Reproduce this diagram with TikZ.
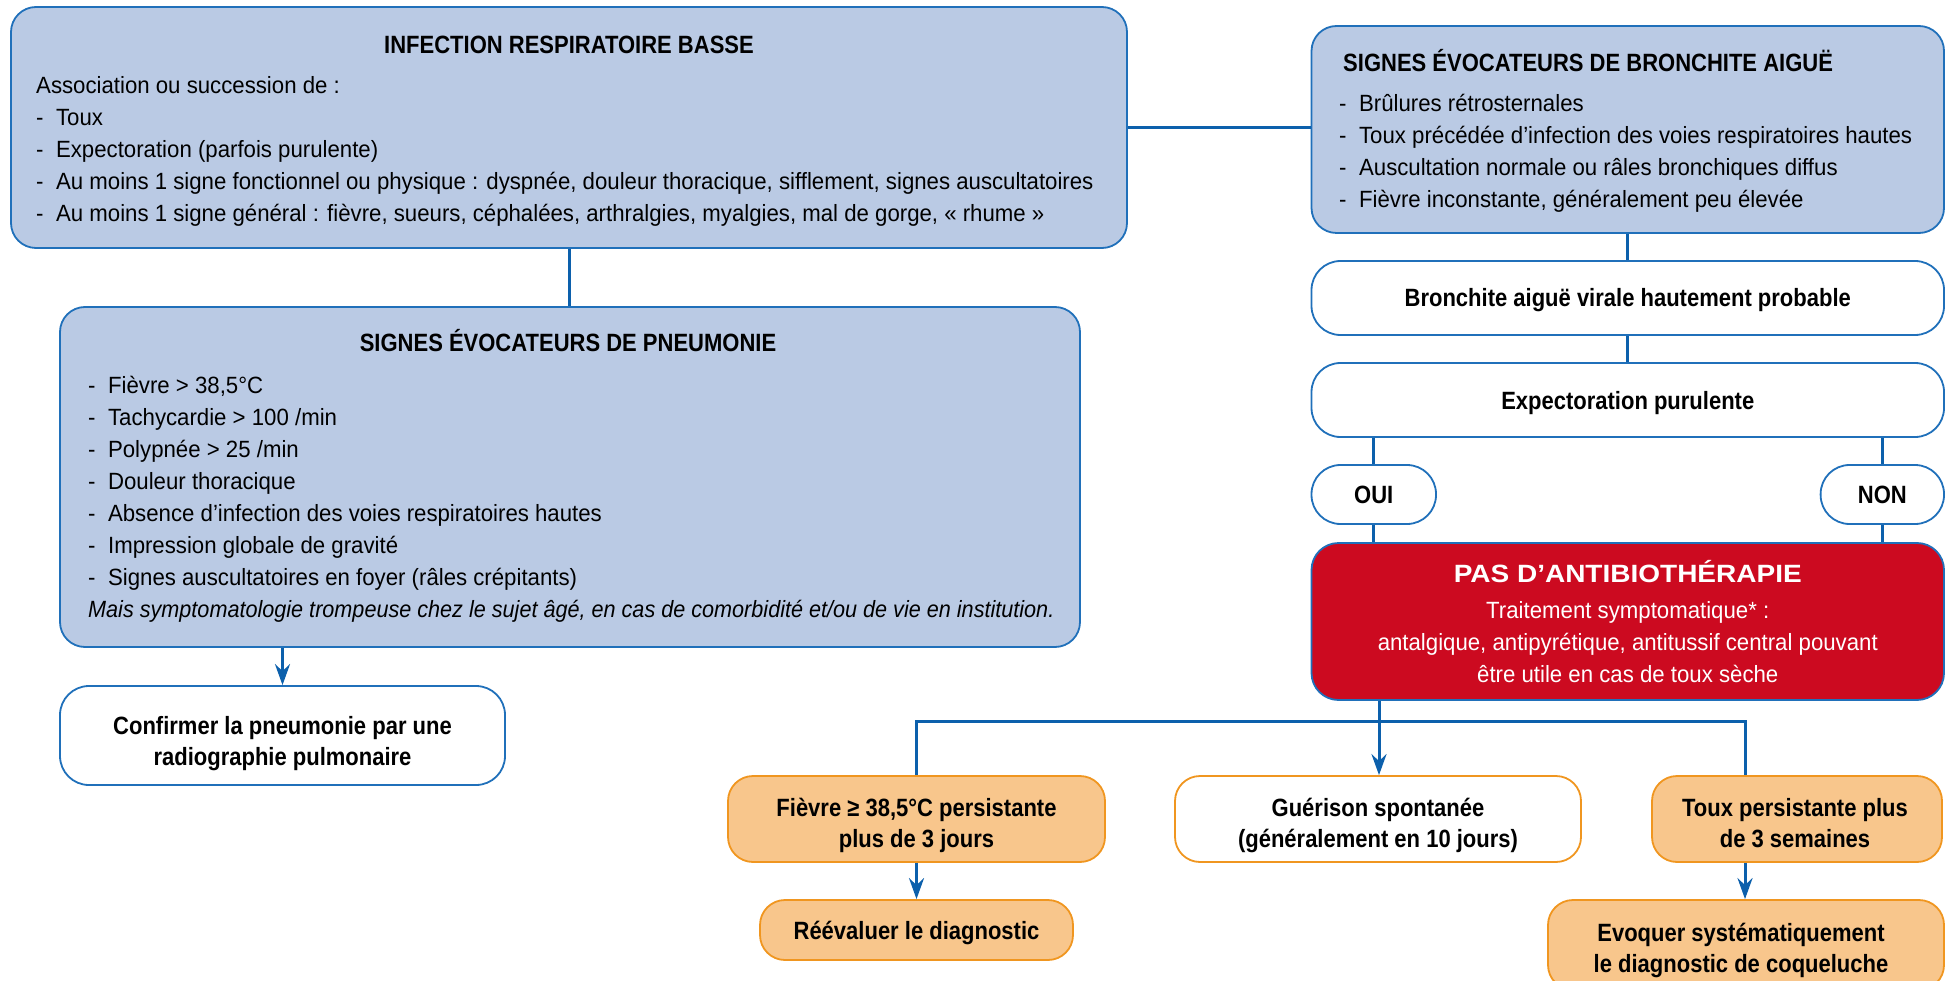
\documentclass[tikz,border=0pt]{standalone}
\usepackage{fontspec}
\setmainfont{Liberation Sans}[FakeStretch=0.945]
\newfontfamily\condbold{Liberation Sans}[FakeStretch=0.88]
\newfontfamily\condital{Liberation Sans}[FakeStretch=0.92]
\newfontfamily\widebold{Liberation Sans}[FakeStretch=1.12]
\usetikzlibrary{arrows.meta}

\definecolor{fillblue}{RGB}{186,202,228}
\definecolor{lineblue}{RGB}{32,112,186}
\definecolor{linkblue}{RGB}{12,96,172}
\definecolor{fillred}{RGB}{204,10,32}
\definecolor{fillorange}{RGB}{248,198,140}
\definecolor{lineorange}{RGB}{240,150,32}

\newcommand{\lead}{\rule{0pt}{22pt}}
\newcommand{\puce}{-\hspace{12.5pt}}

\tikzset{
  bluebox/.style={draw=lineblue, line width=1.8pt, fill=fillblue, rounded corners=25pt, inner sep=0pt},
  whitebox/.style={draw=lineblue, line width=1.8pt, fill=white, rounded corners=29pt, inner sep=0pt},
  redbox/.style={draw=lineblue, line width=1.8pt, fill=fillred, rounded corners=27pt, inner sep=0pt},
  orangebox/.style={draw=lineorange, line width=1.8pt, fill=fillorange, rounded corners=25pt, inner sep=0pt},
  guerbox/.style={orangebox, fill=white},
  plaintext/.style={font=\fontsize{23.5}{32}\selectfont, align=left, inner sep=0pt, anchor=north west},
  boldtext/.style={font=\condbold\bfseries\fontsize{25}{31.5}\selectfont, align=center, inner sep=0pt},
  onerow/.style={boldtext, text height=18pt, text depth=0pt},
  link/.style={draw=linkblue, line width=3pt},
  arrowlink/.style={link, -{Stealth[length=21pt, width=15pt, inset=7pt]}}
}

\begin{document}
\begin{tikzpicture}[x=1pt, y=-1pt]
\useasboundingbox (0,0) rectangle (1945,981);

% left column
\node[bluebox, minimum width=1116pt, minimum height=241pt] (inf) at (569,127.5) {};
\node[boldtext, anchor=base] (inftitle) at (569,54) {INFECTION RESPIRATOIRE BASSE};
\node[plaintext] (inflist) at (36,71.4) {\lead Association ou succession de :\\
\puce Toux\\
\puce Expectoration (parfois purulente)\\
\puce Au moins 1 signe fonctionnel ou physique : dyspnée, douleur thoracique, sifflement, signes auscultatoires\\
\puce Au moins 1 signe général : fièvre, sueurs, céphalées, arthralgies, myalgies, mal de gorge, « rhume »};

\node[bluebox, minimum width=1020pt, minimum height=340pt] (pneu) at (570,477) {};
\node[boldtext, anchor=base] (pneutitle) at (568,352) {SIGNES ÉVOCATEURS DE PNEUMONIE};
\node[plaintext] (pneulist) at (88,371.4) {\lead\puce Fièvre > 38,5°C\\
\puce Tachycardie > 100 /min\\
\puce Polypnée > 25 /min\\
\puce Douleur thoracique\\
\puce Absence d’infection des voies respiratoires hautes\\
\puce Impression globale de gravité\\
\puce Signes auscultatoires en foyer (râles crépitants)\\
\condital\itshape Mais symptomatologie trompeuse chez le sujet âgé, en cas de comorbidité et/ou de vie en institution.};

\node[whitebox, minimum width=445pt, minimum height=99pt] (confirm) at (282.5,735.5) {};
\node[boldtext, anchor=north] (confirmtext) at (282.5,712) {\lead Confirmer la pneumonie par une\\radiographie pulmonaire};

% right column
\node[bluebox, minimum width=632.5pt, minimum height=207pt] (bron) at (1627.75,129.5) {};
\node[boldtext, anchor=base west] (brontitle) at (1343,72) {SIGNES ÉVOCATEURS DE BRONCHITE AIGUË};
\node[plaintext] (bronlist) at (1339,89.4) {\lead\puce Brûlures rétrosternales\\
\puce Toux précédée d’infection des voies respiratoires hautes\\
\puce Auscultation normale ou râles bronchiques diffus\\
\puce Fièvre inconstante, généralement peu élevée};

\node[whitebox, onerow, minimum width=632.5pt, minimum height=74pt] (virale) at (1627.75,298) {Bronchite aiguë virale hautement probable};
\node[whitebox, onerow, minimum width=632.5pt, minimum height=74pt] (expect) at (1627.75,400) {Expectoration purulente};
\node[whitebox, onerow, minimum width=124.5pt, minimum height=59pt] (oui) at (1373.75,494.5) {OUI};
\node[whitebox, onerow, minimum width=123.4pt, minimum height=59pt] (non) at (1882.3,494.5) {NON};

\node[redbox, minimum width=632.5pt, minimum height=157pt] (red) at (1627.75,621.5) {};
\node[font=\widebold\bfseries\fontsize{25}{30}\selectfont, text=white, inner sep=0pt, anchor=base] (redtitle) at (1627.75,582) {PAS D’ANTIBIOTHÉRAPIE};
\node[plaintext, text=white, align=center, anchor=north] (redtext) at (1627.75,596.4) {\lead Traitement symptomatique* :\\
antalgique, antipyrétique, antitussif central pouvant\\
être utile en cas de toux sèche};

% bottom row
\node[orangebox, minimum width=377pt, minimum height=86pt] (fievre) at (916.5,819) {};
\node[boldtext, anchor=north] (fievretext) at (916.5,794) {\lead Fièvre ≥ 38,5°C persistante\\plus de 3 jours};
\node[guerbox, minimum width=406pt, minimum height=86pt] (guer) at (1378,819) {};
\node[boldtext, anchor=north] (guertext) at (1378,794) {\lead Guérison spontanée\\(généralement en 10 jours)};
\node[orangebox, minimum width=290pt, minimum height=86pt] (toux) at (1797,819) {};
\node[boldtext, anchor=north] (touxtext) at (1795,794) {\lead Toux persistante plus\\de 3 semaines};

\node[orangebox, onerow, minimum width=313pt, minimum height=60pt] (reeval) at (916.5,930) {Réévaluer le diagnostic};
\node[orangebox, minimum width=396pt, minimum height=90pt] (evoq) at (1746,945) {};
\node[boldtext, anchor=north] (evoqtext) at (1741,919) {\lead Evoquer systématiquement\\le diagnostic de coqueluche};

% connectors
\coordinate (jc) at (1379,721);
\coordinate (jr) at (1745,721);
\draw[link] (inf.east) -- (inf.east -| bron.west);
\draw[link] (inf.south) -- (inf.south |- pneu.north);
\draw[arrowlink] (pneu.south -| confirm.north) -- (confirm.north);
\draw[link] (bron.south) -- (virale.north);
\draw[link] (virale.south) -- (expect.north);
\draw[link] (expect.south -| oui.north) -- (oui.north);
\draw[link] (expect.south -| non.north) -- (non.north);
\draw[link] (oui.south) -- (oui.south |- red.north);
\draw[link] (non.south) -- (non.south |- red.north);
\draw[link] (red.south -| jc) -- (jc);
\draw[arrowlink] (jc) -- (jc |- guer.north);
\draw[link] (fievre.north) |- (jr) -- (jr |- toux.north);
\draw[arrowlink] (fievre.south) -- (reeval.north);
\draw[arrowlink] (toux.south -| jr) -- (evoq.north -| jr);
\end{tikzpicture}
\end{document}
